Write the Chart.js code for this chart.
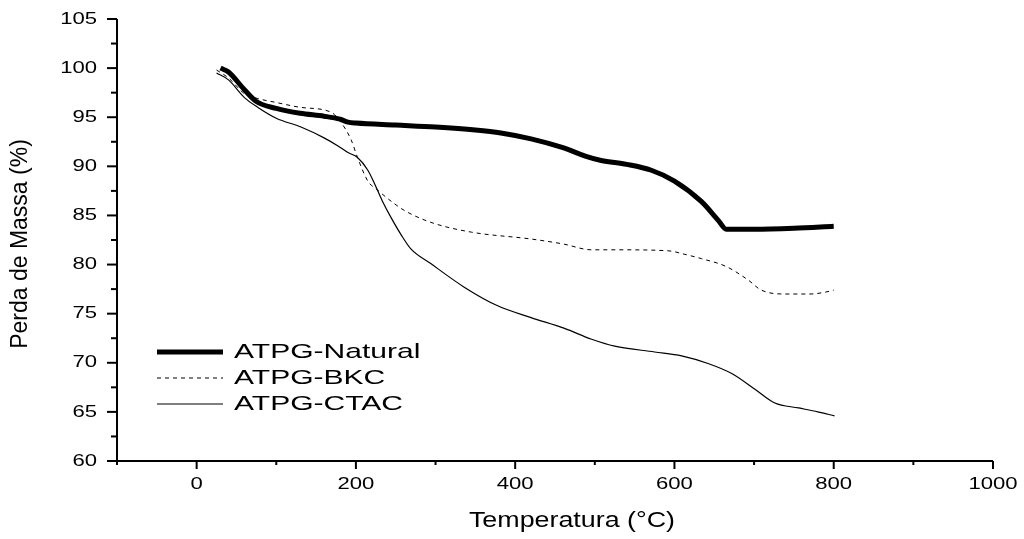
<!DOCTYPE html>
<html>
<head>
<meta charset="utf-8">
<script src="https://cdn.jsdelivr.net/npm/chart.js@4/dist/chart.umd.min.js"></script>
<style>
  html, body { margin: 0; padding: 0; background: #fff; }
  canvas { display: block; }
</style>
</head>
<body>
<canvas id="myChart" width="1024" height="539"></canvas>
<script>
const ctx = document.getElementById("myChart").getContext("2d");

// TGA curves: temperature (°C) and residual mass (%)
const natTemp = [30, 40, 60, 75, 100, 130, 160, 180, 190, 200, 250, 300, 350, 382, 420, 460, 490, 508, 540, 571, 600, 634, 655, 665, 700, 750, 800];
const natMass = [100.0, 99.6, 97.8, 96.6, 95.9, 95.4, 95.1, 94.8, 94.5, 94.4, 94.2, 94.0, 93.7, 93.4, 92.8, 91.9, 91.0, 90.6, 90.2, 89.6, 88.5, 86.4, 84.5, 83.6, 83.6, 83.7, 83.9];

const bkcTemp = [25, 40, 60, 77, 100, 131, 169, 181, 194, 202, 215, 227, 245, 261, 294, 345, 420, 460, 496, 530, 592, 615, 634, 665, 693, 709, 740, 770, 790, 800];
const bkcMass = [99.8, 99.0, 97.4, 96.9, 96.5, 96.0, 95.5, 94.5, 92.7, 90.9, 88.5, 87.6, 86.4, 85.5, 84.3, 83.3, 82.6, 82.1, 81.5, 81.5, 81.4, 81.0, 80.6, 79.8, 78.4, 77.4, 77.0, 77.0, 77.2, 77.4];

const ctacTemp = [25, 40, 60, 77, 100, 131, 160, 177, 190, 202, 215, 223, 233, 244, 257, 269, 294, 336, 378, 420, 462, 496, 525, 575, 609, 643, 672, 701, 726, 756, 780, 801];
const ctacMass = [99.5, 98.8, 97.0, 96.0, 94.9, 94.0, 92.9, 92.1, 91.4, 90.9, 89.6, 88.3, 86.5, 84.8, 83.0, 81.6, 80.1, 77.7, 75.8, 74.6, 73.5, 72.4, 71.7, 71.1, 70.7, 69.9, 68.9, 67.3, 65.9, 65.4, 65.0, 64.6];

const xTicks = [0, 200, 400, 600, 800, 1000];
const yTicks = [60, 65, 70, 75, 80, 85, 90, 95, 100, 105];
const seriesNames = ["ATPG-Natural", "ATPG-BKC", "ATPG-CTAC"];

const toPoints = (xs, ys) => xs.map((x, i) => ({ x, y: ys[i] }));

const FONT = "'Liberation Sans', Arial, sans-serif";

// text stretched horizontally
function stretchText(c, str, x, y, size, sx, align) {
  c.save();
  c.font = size + "px " + FONT;
  c.fillStyle = "#000";
  c.textBaseline = "middle";
  c.textAlign = align;
  c.translate(x, y);
  c.scale(sx, 1);
  c.fillText(str, 0, 0);
  c.restore();
}

// axes, ticks, labels, titles and legend
const axesPlugin = {
  id: "axesPlugin",
  afterDraw(chart) {
    const {
      ctx,
      chartArea: { left, right, top, bottom },
      scales: { x, y },
    } = chart;

    ctx.save();
    ctx.strokeStyle = "#000";
    ctx.lineWidth = 2;
    ctx.beginPath();
    ctx.moveTo(left, top);
    ctx.lineTo(left, bottom);
    ctx.lineTo(right, bottom);
    ctx.stroke();

    // x ticks: major every 200, minor every 100
    for (let v = -100; v <= 1000; v += 100) {
      const px = x.getPixelForValue(v);
      const major = v % 200 === 0;
      ctx.beginPath();
      ctx.moveTo(px, bottom);
      ctx.lineTo(px, bottom + (major ? 8 : 4));
      ctx.stroke();
    }
    // y ticks: major every 5, minor every 2.5
    for (let v = 60; v <= 105; v += 2.5) {
      const py = y.getPixelForValue(v);
      const major = v % 5 === 0;
      ctx.beginPath();
      ctx.moveTo(left, py);
      ctx.lineTo(left - (major ? 10 : 6), py);
      ctx.stroke();
    }
    ctx.restore();

    xTicks.forEach((v) => {
      stretchText(ctx, String(v), x.getPixelForValue(v), bottom + 23, 17, 1.3, "center");
    });
    yTicks.forEach((v) => {
      stretchText(ctx, String(v), left - 20, y.getPixelForValue(v), 17, 1.3, "right");
    });

    // axis titles
    stretchText(ctx, "Temperatura (°C)", 572, 521, 22, 1.22, "center");
    ctx.save();
    ctx.translate(21, 244);
    ctx.rotate(-Math.PI / 2);
    ctx.font = "23px " + FONT;
    ctx.fillStyle = "#000";
    ctx.textAlign = "center";
    ctx.textBaseline = "middle";
    ctx.fillText("Perda de Massa (%)", 0, 0);
    ctx.restore();

    // legend
    const rows = [352, 378, 404];
    chart.data.datasets.forEach((ds, i) => {
      ctx.save();
      ctx.strokeStyle = "#000";
      ctx.lineWidth = ds.borderWidth;
      ctx.setLineDash(ds.borderDash || []);
      ctx.beginPath();
      ctx.moveTo(157, rows[i]);
      ctx.lineTo(223, rows[i]);
      ctx.stroke();
      ctx.restore();
      stretchText(ctx, seriesNames[i], 234, rows[i], 21, 1.43, "left");
    });
  },
};

const myChart = new Chart(ctx, {
  type: "line",
  data: {
    datasets: [
      {
        label: seriesNames[0],
        data: toPoints(natTemp, natMass),
        borderColor: "#000",
        borderWidth: 5,
        cubicInterpolationMode: "monotone",
        pointRadius: 0,
      },
      {
        label: seriesNames[1],
        data: toPoints(bkcTemp, bkcMass),
        borderColor: "#000",
        borderWidth: 1,
        borderDash: [4, 4],
        cubicInterpolationMode: "monotone",
        pointRadius: 0,
      },
      {
        label: seriesNames[2],
        data: toPoints(ctacTemp, ctacMass),
        borderColor: "#000",
        borderWidth: 1.2,
        cubicInterpolationMode: "monotone",
        pointRadius: 0,
      },
    ],
  },
  options: {
    responsive: false,
    devicePixelRatio: 1,
    animation: false,
    layout: {
      padding: { top: 19, right: 31, left: 0, bottom: 0 },
    },
    scales: {
      x: {
        type: "linear",
        min: -100,
        max: 1000,
        grid: { display: false, drawTicks: false },
        border: { display: false },
        ticks: { display: false },
        afterFit(scale) {
          scale.height = 78;
        },
      },
      y: {
        min: 60,
        max: 105,
        grid: { display: false, drawTicks: false },
        border: { display: false },
        ticks: { display: false },
        afterFit(scale) {
          scale.width = 117;
        },
      },
    },
    plugins: {
      legend: { display: false },
      tooltip: { enabled: false },
    },
  },
  plugins: [axesPlugin],
});
</script>
</body>
</html>
